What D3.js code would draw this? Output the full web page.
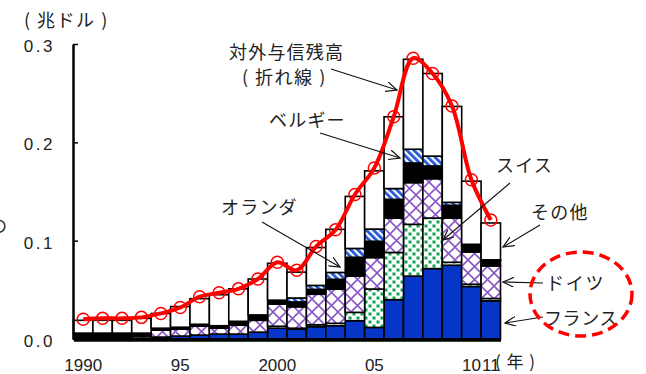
<!DOCTYPE html>
<html><head><meta charset="utf-8">
<script src="https://cdn.jsdelivr.net/npm/d3@7"></script>
<style>
body{margin:0;background:#fff}
svg{display:block}
text{font-family:"Noto Sans CJK JP","Noto Sans",sans-serif;fill:#222}
.num{font-family:"Liberation Sans",Arial,sans-serif}
</style>
</head><body><svg id="c" width="646" height="374"></svg>
<script>
// ---- data (trillion USD) ----
const years = [1990,1991,1992,1993,1994,1995,1996,1997,1998,1999,2000,2001,2002,2003,2004,2005,2006,2007,2008,2009,2010,2011];
const france      = [0,0,0,0.001,0.002,0.003,0.004,0.005,0.005,0.007,0.011,0.010,0.0125,0.0135,0.0186,0.0118,0.040,0.064,0.0716,0.075,0.0534,0.0388];
const switzerland = [0,0,0,0,0,0,0,0,0,0,0.002,0.001,0.002,0.0025,0.0085,0.039,0.048,0.0526,0.0514,0.003,0.0023,0.0024];
const germany     = [0,0,0,0.002,0.007,0.007,0.009,0.006,0.009,0.012,0.0225,0.0217,0.031,0.0347,0.037,0.032,0.035,0.0424,0.040,0.045,0.0328,0.0331];
const netherlands = [0.006,0.006,0.006,0.003,0.002,0.002,0.002,0.0025,0.004,0.0055,0.0025,0.005,0.005,0.010,0.019,0.0166,0.019,0.020,0.013,0.013,0.0068,0.0057];
const belgium     = [0,0,0,0,0,0,0,0,0,0,0.0015,0.004,0.004,0.007,0.009,0.0124,0.011,0.014,0.010,0.003,0.001,0.0005];
const others      = [0.013,0.013,0.013,0.015,0.015,0.021,0.026,0.0315,0.033,0.0365,0.0375,0.0263,0.0385,0.0438,0.0529,0.0592,0.073,0.0915,0.084,0.0975,0.0642,0.0375];
const totalLine   = [0.020,0.021,0.021,0.022,0.026,0.032,0.043,0.047,0.051,0.061,0.078,0.070,0.094,0.111,0.147,0.174,0.226,0.2855,0.270,0.237,0.162,0.121];
const yTicks = [0,0.1,0.2,0.3];
const xTickYears = [1990,1995,2000,2005,2010,2011];
const xTickLabels = ["1990","95","2000","05","10","11"];
const seriesKeys = ["france","switzerland","germany","netherlands","belgium","others"];

const svg = d3.select("#c");
const defs = svg.append("defs");

// patterns
const pg = defs.append("pattern").attr("id","pGreen").attr("width",8).attr("height",8).attr("patternUnits","userSpaceOnUse");
pg.append("rect").attr("width",8).attr("height",8).attr("fill","#fff");
pg.append("rect").attr("x",0.5).attr("y",0.5).attr("width",3).attr("height",3).attr("fill","#0ea550");
pg.append("rect").attr("x",4.5).attr("y",4.5).attr("width",3).attr("height",3).attr("fill","#0ea550");

const pp = defs.append("pattern").attr("id","pPurple").attr("width",13).attr("height",13).attr("patternUnits","userSpaceOnUse");
pp.append("rect").attr("width",13).attr("height",13).attr("fill","#fff");
pp.append("path").attr("d","M0,0L13,13M13,0L0,13M-2,11L2,15M11,-2L15,2").attr("stroke","#8a58c6").attr("stroke-width",1.6).attr("fill","none");

const pb = defs.append("pattern").attr("id","pBlue").attr("width",5).attr("height",5).attr("patternUnits","userSpaceOnUse").attr("patternTransform","rotate(-45)");
pb.append("rect").attr("width",5).attr("height",5).attr("fill","#fff");
pb.append("rect").attr("width",2.8).attr("height",5).attr("fill","#2457d6");

const fills = {france:"#0636c8", switzerland:"url(#pGreen)", germany:"url(#pPurple)", netherlands:"#000", belgium:"url(#pBlue)", others:"#fff"};

const marker = defs.append("marker").attr("id","arr").attr("viewBox","0 0 12 10").attr("refX",11).attr("refY",5)
  .attr("markerWidth",12).attr("markerHeight",10).attr("markerUnits","userSpaceOnUse").attr("orient","auto");
marker.append("path").attr("d","M0,0L11,5L0,10").attr("fill","none").attr("stroke","#111").attr("stroke-width",1.2);

// table
const table = years.map((yr,i)=>({year:yr,france:france[i],switzerland:switzerland[i],germany:germany[i],netherlands:netherlands[i],belgium:belgium[i],others:others[i]}));
const stacked = d3.stack().keys(seriesKeys)(table);

const x = d3.scaleBand().domain(years).range([73.5,500.5]).padding(0);
const y = d3.scaleLinear().domain([0,0.3]).range([339,44]);

// bars
const g = svg.append("g");
stacked.forEach(s=>{
  g.selectAll(null).data(s).enter().append("rect")
   .attr("x",d=>x(d.data.year)).attr("width",x.bandwidth())
   .attr("y",d=>y(d[1])).attr("height",d=>Math.max(0,y(d[0])-y(d[1])))
   .attr("fill",fills[s.key]).attr("stroke","#000").attr("stroke-width",1.6);
});

// y axis
const ya = svg.append("g").attr("transform","translate(73,0)")
  .call(d3.axisLeft(y).tickValues(yTicks).tickSizeInner(-5).tickSizeOuter(0).tickPadding(18).tickFormat(d3.format(".1f")));
ya.select(".domain").attr("stroke","#000").attr("stroke-width",2.5);
ya.selectAll(".tick line").attr("stroke","#000").attr("stroke-width",1.5);
ya.selectAll(".tick text").attr("class","num").attr("font-size",17).attr("fill","#333").attr("dy","0.45em").attr("letter-spacing","2.5px");

// x axis
const xa = svg.append("g").attr("transform","translate(0,339.5)")
  .call(d3.axisBottom(x).tickValues(xTickYears).tickSize(0).tickPadding(19).tickFormat((d)=>xTickLabels[xTickYears.indexOf(d)]));
xa.select(".domain").attr("stroke","#000").attr("stroke-width",3.5);
xa.selectAll(".tick text").attr("class","num").attr("font-size",17).attr("fill","#222");

// line
const cx = d=>x(d)+x.bandwidth()/2;
const line = d3.line().x((d,i)=>cx(years[i])).y(d=>y(d)).curve(d3.curveCatmullRom.alpha(0.5));
svg.append("path").datum(totalLine).attr("d",line).attr("fill","none").attr("stroke","#ff0000").attr("stroke-width",4).attr("stroke-linejoin","round");
svg.selectAll(".pt").data(totalLine).enter().append("circle")
  .attr("cx",(d,i)=>cx(years[i])).attr("cy",d=>y(d)).attr("r",6)
  .attr("fill","none").attr("stroke","#ff0000").attr("stroke-width",1.5);

// texts
const t = (s,xx,yy,size)=>svg.append("text").attr("x",xx).attr("y",yy).attr("font-size",size||18).attr("xml:space","preserve").text(s);
t("( 兆ドル )",24,27,18).attr("letter-spacing","1.5px");
t("( 年 )",495,368,17).attr("letter-spacing","1px");
t("の",-10,232,17);
t("対外与信残高",229,59,18).attr("letter-spacing","1.2px");
t("( 折れ線 )",242,84,18).attr("letter-spacing","1.5px");
t("ベルギー",269,127,18).attr("letter-spacing","1.2px");
t("オランダ",221,214,18).attr("letter-spacing","1.2px");
t("スイス",496,172,18).attr("letter-spacing","1.2px");
t("その他",531,219,18).attr("letter-spacing","1.2px");
t("ドイツ",546,290,18).attr("letter-spacing","1.8px");
t("フランス",544,325,18).attr("letter-spacing","0.6px");

// arrows
const arrows = [[331,69,397,90],[320,133,400,158],[262,222,340,267],[510,183,443,240],[540,225,503,247],[543,283,503,282],[543,317,505,323]];
svg.selectAll(".ar").data(arrows).enter().append("line")
  .attr("x1",d=>d[0]).attr("y1",d=>d[1]).attr("x2",d=>d[2]).attr("y2",d=>d[3])
  .attr("stroke","#111").attr("stroke-width",1.1).attr("marker-end","url(#arr)");

// dashed ellipse
svg.append("ellipse").attr("cx",581).attr("cy",294).attr("rx",51).attr("ry",42)
  .attr("fill","none").attr("stroke","#ff0000").attr("stroke-width",3.5).attr("stroke-dasharray","11,6");
</script></body></html>
